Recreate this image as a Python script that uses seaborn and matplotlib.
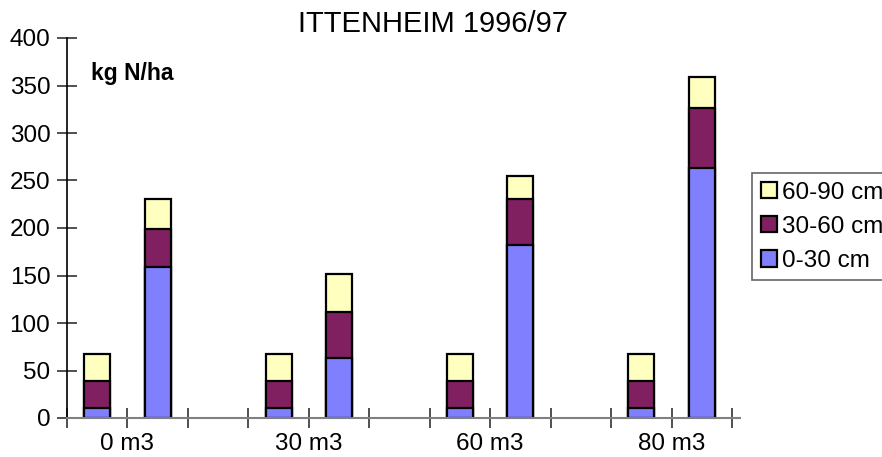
import matplotlib
matplotlib.use("Agg")
import matplotlib.pyplot as plt
from matplotlib.patches import Patch
import numpy as np
import pandas as pd
import seaborn as sns

# ---- data ----
groups = ["0 m3", "30 m3", "60 m3", "80 m3"]
bar_positions = [0.5, 1.5, 3.5, 4.5, 6.5, 7.5, 9.5, 10.5]
layer_0_30 = [11, 159, 11, 63, 11, 182, 11, 263]
layer_30_60 = [28, 40, 28, 49, 28, 48, 28, 63]
layer_60_90 = [28, 32, 28, 40, 28, 25, 28, 33]
layer_labels = ["0-30 cm", "30-60 cm", "60-90 cm"]
group_tick_pos = [1, 4, 7, 10]
y_ticks = [0, 50, 100, 150, 200, 250, 300, 350, 400]

colors = {"0-30 cm": "#8080FF", "30-60 cm": "#802060", "60-90 cm": "#FFFFC0"}

sns.set_theme(style="ticks")
plt.rcParams["font.family"] = ["Liberation Sans", "DejaVu Sans"]
plt.rcParams["text.color"] = "black"

df = pd.DataFrame({
    "pos": bar_positions,
    "l1": layer_0_30,
    "l2": layer_30_60,
    "l3": layer_60_90,
})
df["c1"] = df["l1"]
df["c2"] = df["l1"] + df["l2"]
df["c3"] = df["l1"] + df["l2"] + df["l3"]

W, H = 882, 457
fig = plt.figure(figsize=(W / 100, H / 100), dpi=100)
ax = fig.add_axes([67 / W, 1 - 418 / H, (740 - 67) / W, (418 - 38) / H])

for col, lab in [("c3", "60-90 cm"), ("c2", "30-60 cm"), ("c1", "0-30 cm")]:
    sns.barplot(data=df, x="pos", y=col, native_scale=True, width=0.43,
                color=colors[lab], saturation=1, edgecolor="black",
                linewidth=1.6, errorbar=None, ax=ax)

ax.set_xlim(0, (740 - 67) / ((732 - 67) / 11))
ax.set_ylim(0, 400)
ax.set_xlabel("")
ax.set_ylabel("")
ax.set_yticks(y_ticks)
ax.set_yticklabels([str(v) for v in y_ticks])
ax.set_xticks(list(range(12)))
lbls = [""] * 12
for p, g in zip(group_tick_pos, groups):
    lbls[p] = g
ax.set_xticklabels(lbls)

for s in ["top", "right"]:
    ax.spines[s].set_visible(False)
ax.spines["left"].set_color("black")
ax.spines["left"].set_linewidth(1.2)
ax.spines["bottom"].set_color("#808080")
ax.spines["bottom"].set_linewidth(1.5)
ax.tick_params(axis="both", which="major", direction="inout", length=14, width=1.1,
               color="#202020", labelsize=17.5, labelcolor="black",
               bottom=True, left=True)
ax.tick_params(axis="y", pad=5)
ax.tick_params(axis="x", pad=4)

fig.text(432.5 / W, 1 - 32 / H, "ITTENHEIM 1996/97", ha="center", va="baseline",
         fontsize=21, color="black")
fig.text(91 / W, 1 - 80 / H, "kg N/ha", ha="left", va="baseline",
         fontsize=16.5, fontweight="bold", color="black")

handles = [Patch(facecolor=colors[l], edgecolor="black", linewidth=1.6, label=l)
           for l in ["60-90 cm", "30-60 cm", "0-30 cm"]]
leg = fig.legend(handles=handles, loc="upper left",
                 bbox_to_anchor=(752 / W, 1 - 173 / H), bbox_transform=fig.transFigure,
                 fontsize=17.5, frameon=True, fancybox=False, borderaxespad=0,
                 handlelength=0.68, handleheight=0.68, handletextpad=0.2,
                 labelspacing=0.5, borderpad=0.35, labelcolor="black")
leg.get_frame().set_edgecolor("#404040")
leg.get_frame().set_linewidth(1.2)

fig.savefig("out.png", dpi=100)
